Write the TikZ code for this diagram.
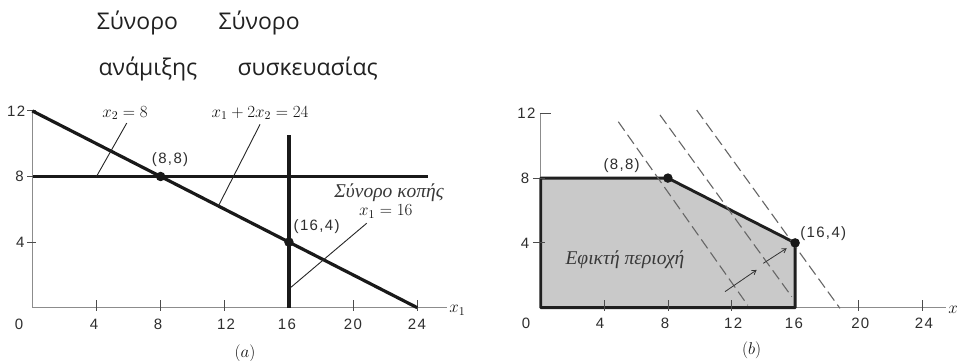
\RequirePackage{fix-cm}
\documentclass[tikz,border=0pt]{standalone}
\usepackage{fontspec}
\newfontfamily\hdrfont{Open Sans}
\newfontfamily\numfont[LetterSpace=9]{Liberation Sans}
\newfontfamily\grkfont{Liberation Serif}
\usetikzlibrary{arrows.meta}
\begin{document}
\begin{tikzpicture}[x=1pt,y=1pt,
  thickln/.style={line width=3.2pt, black!90},
  leader/.style={line width=0.9pt, black!85},
  axisln/.style={line width=0.7pt, black!45},
  tickln/.style={line width=0.8pt, black!70},
  numlbl/.style={font=\numfont\fontsize{15}{18}\selectfont, text=black!82, inner sep=0pt},
  mathlbl/.style={font=\fontsize{17}{20}\selectfont, text=black!92, inner sep=0pt},
  grklbl/.style={font=\grkfont\itshape\fontsize{19.5}{22}\selectfont, text=black!78, inner sep=0pt},
  hdr/.style={font=\hdrfont\fontsize{23}{27}\selectfont, text=black!87, inner sep=0pt, anchor=base west},
  dotnode/.style={circle, fill=black!90, inner sep=0pt, minimum size=9.5pt},
  dashln/.style={line width=1.1pt, black!60, dash pattern=on 11pt off 5pt},
  arrowln/.style={line width=0.8pt, black!80, -{Straight Barb[length=4pt,width=5pt]}}]
\useasboundingbox (0,0) rectangle (961,361);
\fill[white] (0,0) rectangle (961,361);
% header texts
\node[hdr] (h1) at (96.7,331) {Σύνορο};
\node[hdr] (h2) at (218.3,331) {Σύνορο};
\node[hdr] (h3) at (98.3,285) {ανάμιξης};
\node[hdr] (h4) at (237.3,285) {συσκευασίας};
% ---------------- chart (a)
\begin{scope}[shift={(32.3,53.3)}, x=16.04pt, y=16.4pt]
  \draw[axisln] (0,0) -- (25.85,0);
  \draw[axisln] (0,0) -- (0,12);
  \foreach \t in {4,8,12,20,24} \draw[tickln] (\t,-0.2) -- (\t,0.45);
  \foreach \t in {4,8,12} \draw[tickln] (-0.3,\t) -- (0.2,\t);
  \node[numlbl] (a0) at (-0.83,-1.0) {0};
  \foreach \t/\p in {4/3.85,8/7.84,12/12.08,16/15.87,20/19.99,24/23.98}
    \node[numlbl] (ax\t) at (\p,-1.0) {\t};
  \node[numlbl] (ay12) at (-1.0,12) {12};
  \node[numlbl] (ay8) at (-0.8,8) {8};
  \node[numlbl] (ay4) at (-0.75,4) {4};
  \node[mathlbl] (ax1) at (26.5,-0.15) {$x_1$};
  % constraint lines
  \draw[thickln] (0,12) -- (24,0);
  \draw[thickln] (0.05,8) -- (24.65,8);
  \draw[thickln] (16,0) -- (16,10.53);
  \node[dotnode] (a88) at (8,8) {};
  \node[dotnode] (a164) at (16,4) {};
  \node[numlbl] (la88) at (8.59,9.0) {(8,8)};
  \node[numlbl] (la164) at (17.73,4.94) {(16,4)};
  % labels with leaders
  \node[mathlbl] (lx2) at (5.78,11.87) {$x_2=8$};
  \coordinate (px2) at (4.0,8.0);
  \draw[leader] (5.89,11.26) -- (px2);
  \node[mathlbl] (lsum) at (14.2,11.87) {$x_1+2x_2=24$};
  \coordinate (psum) at (11.6,6.2);
  \draw[leader] (14.2,11.18) -- (psum);
  \node[grklbl] (lcut) at (22.24,6.99) {Σύνορο κοπής};
  \node[mathlbl] (lx1) at (22.04,5.85) {$x_1=16$};
  \coordinate (px1) at (16.12,1.24);
  \draw[leader] (20.85,5.15) -- (px1);
  \node[mathlbl] (capa) at (13.26,-2.78) {$(a)$};
\end{scope}
% ---------------- chart (b)
\begin{scope}[shift={(540.7,53.3)}, x=15.9pt, y=16.2pt]
  \draw[axisln] (0,0) -- (25.5,0);
  \draw[axisln] (0,0) -- (0,12);
  \filldraw[fill=black!21, draw=black!88, line width=2.9pt, line join=round]
    (0,0) -- (0,8) -- (8,8) -- (16,4) -- (16,0) -- cycle;
  \foreach \t in {4,8,12,20,24} \draw[tickln] (\t,-0.2) -- (\t,0.45);
  \foreach \t in {4,8} \draw[tickln] (-0.5,\t) -- (0.3,\t);
  \draw[tickln] (-0.05,12) -- (0.65,12);
  \node[numlbl] (b0) at (-0.92,-0.94) {0};
  \foreach \t/\p in {4/3.73,8/7.82,12/12.1,16/15.93,20/20.1,24/24.1}
    \node[numlbl] (bx\t) at (\p,-0.94) {\t};
  \node[numlbl] (by12) at (-0.9,12) {12};
  \node[numlbl] (by8) at (-0.98,8) {8};
  \node[numlbl] (by4) at (-0.98,4) {4};
  \node[mathlbl] (bx) at (25.93,-0.14) {$x$};
  % objective lines
  \draw[dashln] (4.88,11.48) -- (13.02,0.15);
  \draw[dashln] (7.50,11.90) -- (15.79,0.68);
  \draw[dashln] (9.81,12.20) -- (18.82,-0.04);
  % arrows
  \draw[arrowln] (11.59,0.99) -- (13.58,2.33);
  \draw[arrowln] (14.0,2.74) -- (15.47,3.67);
  \node[dotnode] (b88) at (8,8) {};
  \node[dotnode] (b164) at (16,4) {};
  \node[numlbl] (lb88) at (5.09,8.75) {(8,8)};
  \node[numlbl] (lb164) at (17.77,4.55) {(16,4)};
  \node[grklbl] (lfeas) at (5.3,2.94) {Εφικτή περιοχή};
  \node[mathlbl] (capb) at (13.27,-2.65) {$(b)$};
\end{scope}
\end{tikzpicture}
\end{document}
